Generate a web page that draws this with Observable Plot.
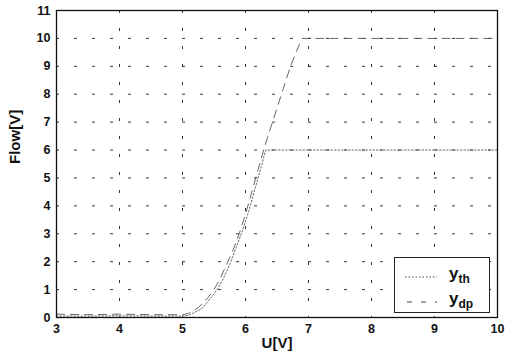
<!DOCTYPE html>
<html>
<head>
<meta charset="utf-8">
<script src="https://cdn.jsdelivr.net/npm/d3@7"></script>
<script src="https://cdn.jsdelivr.net/npm/@observablehq/plot@0.6"></script>
<style>
  html, body { margin: 0; padding: 0; background: #fff; }
  #wrap { position: relative; width: 508px; height: 356px; font-family: "Liberation Sans", Arial, sans-serif; }
  #legend { position: absolute; left: 394px; top: 257px; width: 96px; height: 56px; border: 1px solid #222; background: #fff; box-sizing: border-box; }
  .lrow { position: absolute; left: 0; width: 96px; height: 22px; }
  .lrow svg { position: absolute; left: 8px; top: 5px; }
  .lrow span { position: absolute; left: 54px; top: -2px; font-weight: bold; font-size: 17px; color: #111; }
  .lrow sub { font-size: 12px; vertical-align: -4px; }
</style>
</head>
<body>
<div id="wrap"></div>
<script>
// x ticks / y ticks
const xTicks = [3, 4, 5, 6, 7, 8, 9, 10];
const yTicks = [0, 1, 2, 3, 4, 5, 6, 7, 8, 9, 10, 11];

// y_th (dotted) – saturates at 6 V
const thU = [3, 3.5, 4, 4.5, 5, 5.1, 5.3, 5.45, 5.55, 5.65, 5.75, 5.85, 5.95, 6.05, 6.15, 6.25, 6.32, 7, 8, 9, 10];
const thY = [0.05, 0.05, 0.06, 0.05, 0.05, 0.08, 0.3, 0.7, 1.0, 1.4, 1.9, 2.5, 3.1, 3.8, 4.6, 5.4, 6.0, 6.0, 6.0, 6.0, 6.0];

// y_dp (dashed) – rises to 10 V
const dpU = [3, 3.5, 4, 4.5, 5, 5.1, 5.25, 5.4, 5.5, 5.6, 5.7, 5.8, 5.9, 6.0, 6.1, 6.2, 6.3, 6.4, 6.5, 6.6, 6.7, 6.8, 6.9, 8, 9, 10];
const dpY = [0.12, 0.1, 0.12, 0.1, 0.1, 0.15, 0.35, 0.7, 1.0, 1.4, 1.9, 2.4, 3.0, 3.7, 4.5, 5.3, 6.1, 6.8, 7.5, 8.2, 8.9, 9.5, 10.0, 10.0, 10.0, 10.0];

const th = thU.map((u, i) => ({u, y: thY[i]}));
const dp = dpU.map((u, i) => ({u, y: dpY[i]}));

const chart = Plot.plot({
  width: 508,
  height: 356,
  marginLeft: 56,
  marginRight: 11,
  marginTop: 10,
  marginBottom: 39,
  style: {fontFamily: "Liberation Sans, Arial, sans-serif", background: "#fff", color: "#111"},
  x: {domain: [3, 10]},
  y: {domain: [0, 11]},
  marks: [
    Plot.gridX(xTicks, {stroke: "#111", strokeOpacity: 0.85, strokeDasharray: "3,15"}),
    Plot.gridY(yTicks, {stroke: "#111", strokeOpacity: 0.85, strokeDasharray: "3,15"}),
    Plot.line(th, {x: "u", y: "y", stroke: "#555", strokeWidth: 0.9, strokeDasharray: "1.5,2"}),
    Plot.line(dp, {x: "u", y: "y", stroke: "#555", strokeWidth: 0.9, strokeDasharray: "8,6"}),
    Plot.frame({stroke: "#111", strokeWidth: 1.3}),
    Plot.axisX(xTicks, {tickSize: 0, tickPadding: 7, fontSize: 12.5, fontWeight: "bold", label: null}),
    Plot.axisY(yTicks, {tickSize: 0, tickPadding: 6, fontSize: 12.5, fontWeight: "bold", label: null}),
    Plot.text(["U[V]"], {frameAnchor: "bottom", dy: 30, fontSize: 15, fontWeight: "bold", fill: "#111"}),
    Plot.text(["Flow[V]"], {frameAnchor: "left", dx: -41, rotate: -90, fontSize: 15, fontWeight: "bold", fill: "#111"})
  ]
});
const wrap = document.getElementById("wrap");
wrap.appendChild(chart);

// legend
const legend = document.createElement("div");
legend.id = "legend";
legend.innerHTML = `
  <div class="lrow" style="top:8px"><svg width="36" height="12"><line x1="2" y1="6" x2="34" y2="6" stroke="#444" stroke-width="1" stroke-dasharray="1.5,2"/></svg><span>y<sub>th</sub></span></div>
  <div class="lrow" style="top:33px"><svg width="36" height="12"><line x1="4" y1="6" x2="34" y2="6" stroke="#444" stroke-width="1" stroke-dasharray="5,9"/></svg><span>y<sub>dp</sub></span></div>`;
wrap.appendChild(legend);
</script>
</body>
</html>
